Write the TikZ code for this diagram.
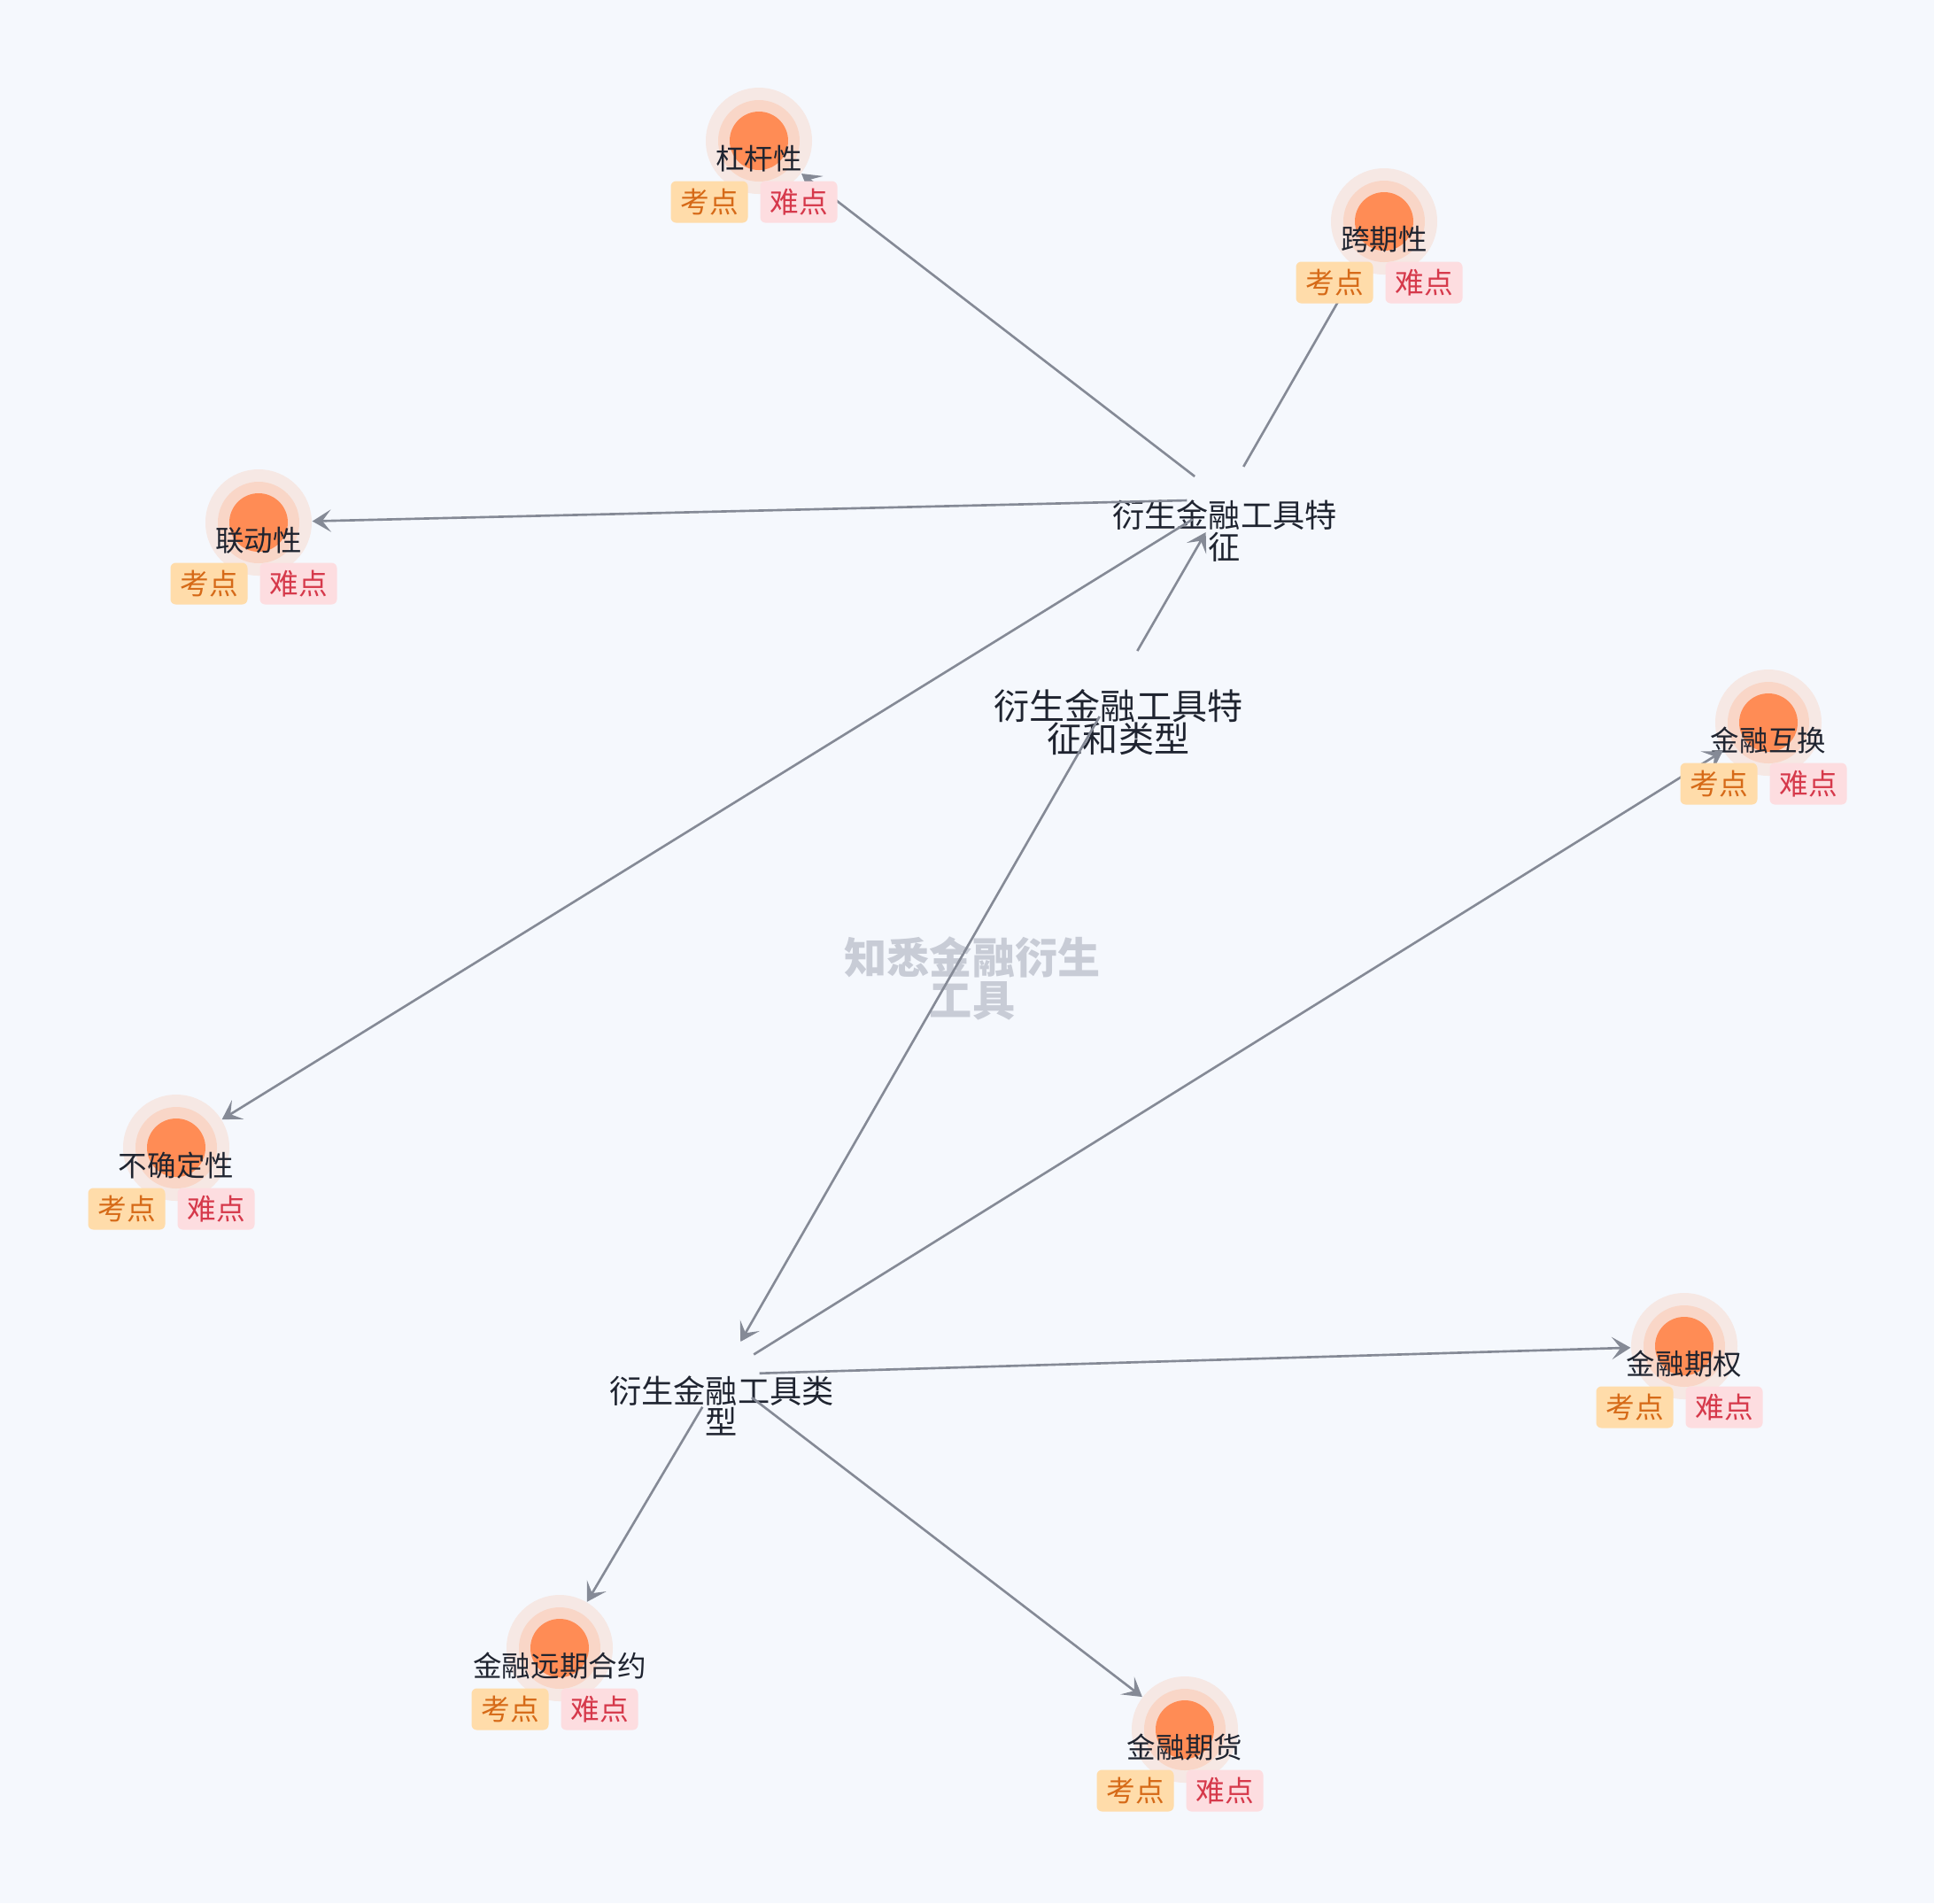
\documentclass[tikz,border=0pt]{standalone}
\usepackage{fontspec}
\setmainfont{Noto Sans CJK SC}
\usepackage{xcolor}
\usepackage{tikz}
\usetikzlibrary{arrows.meta, shapes}

\definecolor{bgcol}{RGB}{245,248,253}
\definecolor{edgecol}{RGB}{133,138,150}
\definecolor{dotcol}{RGB}{255,140,85}
\definecolor{ringcol}{RGB}{249,214,199}
\definecolor{halocol}{RGB}{246,232,228}
\definecolor{txtcol}{RGB}{31,36,48}
\definecolor{kaofill}{RGB}{255,220,170}
\definecolor{kaotext}{RGB}{214,106,24}
\definecolor{nanfill}{RGB}{253,221,224}
\definecolor{nantext}{RGB}{214,57,75}
\definecolor{markcol}{RGB}{200,204,214}

\tikzset{
  leaf/.style={circle, minimum size=1.2cm, inner sep=0pt, fill=halocol,
    path picture={
      \fill[ringcol] (path picture bounding box.center) circle (0.46cm);
      \fill[dotcol] (path picture bounding box.center) circle (0.33cm);}},
  leaftext/.style={font=\fontsize{9.25}{10}\selectfont, text=txtcol, yshift=-2mm},
  hub/.style={circle, minimum size=0.84cm, inner sep=0pt},
  hubtext/.style={font=\fontsize{10.3}{10}\selectfont, text=txtcol, align=center, yshift=-3.55mm},
  badge/.style={rounded corners=0.06cm, minimum width=0.87cm, minimum height=0.47cm,
    inner sep=0pt, font=\fontsize{9.3}{10}\selectfont},
  kao/.style={badge, fill=kaofill, text=kaotext},
  nan/.style={badge, fill=nanfill, text=nantext},
  conn/.style={->, draw=edgecol, line width=0.75pt},
}

\begin{document}
\begin{tikzpicture}[>={Stealth[length=6pt, width=7.2pt, inset=2.8pt]}]
    \fill[bgcol] (0,0) rectangle (21.84,-21.49);
    \useasboundingbox (0,0) rectangle (21.84,-21.49);

    % Titlu in fundal
    \node[font=\fontsize{13.7}{11.9}\selectfont\bfseries, text=markcol, align=center] (mark) at (10.98,-11.05) {知悉金融衍生\\工具};

    \node[hub, label={[hubtext, font=\fontsize{11.4}{10.7}\selectfont, yshift=-0.8mm]center:{衍生金融工具特\\征和类型}}] (root) at (12.63,-7.72) {};
    \node[hub, label={[hubtext]center:{衍生金融工具特\\征}}] (feat) at (13.83,-5.64) {};
    \node[hub, label={[hubtext]center:{衍生金融工具类\\型}}] (kind) at (8.15,-15.52) {};

    \node[leaf, label={[leaftext]center:杠杆性}] (lev) at (8.57,-1.59) {};
    \node[leaf, label={[leaftext]center:跨期性}] (span) at (15.63,-2.50) {};
    \node[leaf, label={[leaftext]center:联动性}] (corr) at (2.92,-5.90) {};
    \node[leaf, label={[leaftext]center:不确定性}] (unc) at (1.99,-12.96) {};
    \node[leaf, label={[leaftext]center:金融互换}] (swap) at (19.97,-8.16) {};
    \node[leaf, label={[leaftext]center:金融期权}] (opt) at (19.02,-15.20) {};
    \node[leaf, label={[leaftext]center:金融远期合约}] (fwd) at (6.32,-18.61) {};
    \node[leaf, label={[leaftext]center:金融期货}] (fut) at (13.38,-19.53) {};

    % Muchii
    \draw[conn] (root) -- (feat);
    \draw[conn] (root) -- (kind);
    \draw[conn] (feat) -- (lev);
    \draw[conn] (feat) -- (span);
    \draw[conn] (feat) -- (corr);
    \draw[conn] (feat) -- (unc);
    \draw[conn] (kind) -- (swap);
    \draw[conn] (kind) -- (opt);
    \draw[conn] (kind) -- (fwd);
    \draw[conn] (kind) -- (fut);

    % Etichete
    \node[kao] (levk) at ([shift={(-0.56,-0.69)}]lev) {考点};
    \node[nan] (levn) at ([shift={(0.45,-0.69)}]lev) {难点};
    \node[kao] (spank) at ([shift={(-0.56,-0.69)}]span) {考点};
    \node[nan] (spann) at ([shift={(0.45,-0.69)}]span) {难点};
    \node[kao] (corrk) at ([shift={(-0.56,-0.69)}]corr) {考点};
    \node[nan] (corrn) at ([shift={(0.45,-0.69)}]corr) {难点};
    \node[kao] (unck) at ([shift={(-0.56,-0.69)}]unc) {考点};
    \node[nan] (uncn) at ([shift={(0.45,-0.69)}]unc) {难点};
    \node[kao] (swapk) at ([shift={(-0.56,-0.69)}]swap) {考点};
    \node[nan] (swapn) at ([shift={(0.45,-0.69)}]swap) {难点};
    \node[kao] (optk) at ([shift={(-0.56,-0.69)}]opt) {考点};
    \node[nan] (optn) at ([shift={(0.45,-0.69)}]opt) {难点};
    \node[kao] (fwdk) at ([shift={(-0.56,-0.69)}]fwd) {考点};
    \node[nan] (fwdn) at ([shift={(0.45,-0.69)}]fwd) {难点};
    \node[kao] (futk) at ([shift={(-0.56,-0.69)}]fut) {考点};
    \node[nan] (futn) at ([shift={(0.45,-0.69)}]fut) {难点};
\end{tikzpicture}
\end{document}
